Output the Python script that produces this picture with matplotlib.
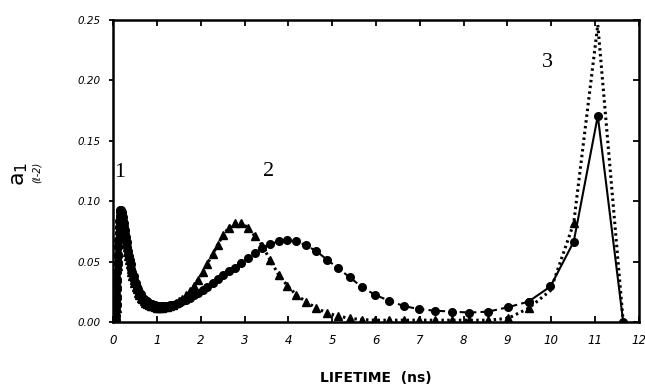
import numpy as np
from matplotlib import pyplot as plt

# lifetime grid (ns), shared by both curves
lifetimes = [0.051, 0.054, 0.057, 0.060, 0.063, 0.066, 0.070, 0.073, 0.077, 0.080,
             0.085, 0.090, 0.095, 0.100, 0.105, 0.110, 0.116, 0.122, 0.128, 0.135,
             0.14, 0.15, 0.16, 0.17, 0.18, 0.19, 0.20, 0.21, 0.22, 0.23,
             0.24, 0.25, 0.27, 0.28, 0.29, 0.31, 0.33, 0.34, 0.36, 0.38,
             0.40, 0.42, 0.44, 0.47, 0.49, 0.52, 0.54, 0.57, 0.60, 0.63,
             0.67, 0.70, 0.74, 0.78, 0.82, 0.86, 0.90, 0.95, 1.00, 1.05,
             1.11, 1.17, 1.23, 1.29, 1.36, 1.43, 1.51, 1.58, 1.67, 1.76,
             1.85, 1.94, 2.05, 2.15, 2.27, 2.39, 2.51, 2.64, 2.78, 2.93,
             3.08, 3.24, 3.41, 3.59, 3.78, 3.98, 4.18, 4.40, 4.64, 4.88,
             5.13, 5.40, 5.69, 5.98, 6.30, 6.63, 6.98, 7.34, 7.73, 8.13,
             8.56, 9.01, 9.48, 9.98, 10.51, 11.06, 11.64]

# amplitudes, circle curve
amp_circles = [0.0, 0.0, 0.0, 0.0, 0.0, 0.0, 0.002, 0.005, 0.009, 0.014,
               0.020, 0.027, 0.034, 0.041, 0.048, 0.055, 0.062, 0.068, 0.074, 0.079,
               0.084, 0.088, 0.091, 0.093, 0.093, 0.092, 0.091, 0.089, 0.087, 0.084,
               0.082, 0.079, 0.076, 0.073, 0.070, 0.066, 0.062, 0.059, 0.055, 0.051,
               0.048, 0.044, 0.041, 0.038, 0.035, 0.032, 0.029, 0.027, 0.025, 0.023,
               0.021, 0.019, 0.018, 0.017, 0.016, 0.015, 0.0145, 0.014, 0.0135, 0.013,
               0.013, 0.013, 0.0133, 0.0137, 0.0142, 0.015, 0.016, 0.017, 0.0185, 0.020,
               0.022, 0.024, 0.0265, 0.029, 0.0325, 0.036, 0.039, 0.042, 0.045, 0.049,
               0.053, 0.057, 0.061, 0.0645, 0.0667, 0.0678, 0.0667, 0.0636, 0.0586, 0.0517,
               0.0447, 0.037, 0.0286, 0.0225, 0.0175, 0.0133, 0.0106, 0.0094, 0.0086, 0.0078,
               0.0086, 0.0122, 0.0169, 0.0294, 0.0664, 0.1706, 0.0]

# amplitudes, triangle curve
amp_triangles = [0.0, 0.0, 0.0, 0.0, 0.0, 0.0, 0.002, 0.004, 0.008, 0.012,
                 0.018, 0.025, 0.032, 0.039, 0.046, 0.053, 0.060, 0.066, 0.072, 0.077,
                 0.081, 0.085, 0.088, 0.090, 0.090, 0.089, 0.088, 0.086, 0.083, 0.081,
                 0.078, 0.075, 0.072, 0.069, 0.066, 0.062, 0.058, 0.055, 0.051, 0.048,
                 0.044, 0.041, 0.038, 0.035, 0.032, 0.029, 0.027, 0.024, 0.022, 0.020,
                 0.019, 0.017, 0.016, 0.015, 0.014, 0.0135, 0.013, 0.0125, 0.012, 0.012,
                 0.012, 0.0122, 0.0125, 0.013, 0.014, 0.0155, 0.017, 0.019, 0.022, 0.026,
                 0.030, 0.035, 0.041, 0.048, 0.056, 0.064, 0.072, 0.078, 0.082, 0.082,
                 0.078, 0.071, 0.063, 0.051, 0.039, 0.030, 0.0225, 0.0169, 0.0114, 0.0075,
                 0.005, 0.003, 0.002, 0.0015, 0.0015, 0.0015, 0.0015, 0.0015, 0.0015, 0.0015,
                 0.0015, 0.003, 0.0114, 0.026, 0.0817, 0.246, 0.0]

xticks = list(range(0, 13))
yticks = [0.00, 0.05, 0.10, 0.15, 0.20, 0.25]
ytick_labels = ['0.00', '0.05', '0.10', '0.15', '0.20', '0.25']
peak_labels = ['1', '2', '3']
peak_pos = [(0.16, 0.124), (3.54, 0.125), (9.92, 0.215)]

x = np.array(lifetimes)
yc = np.array(amp_circles)
yt = np.array(amp_triangles)
split = 102  # circle curve goes solid from here on

fig = plt.figure(figsize=(6.45, 3.87), dpi=100)
ax = fig.add_axes([113/645, 65/387, 526/645, 302/387])

# triangles, dotted
ax.plot(x, yt, color='black', lw=2.2, linestyle=(0, (0.8, 1.1)),
        marker='^', ms=5.5, markevery=list(range(0, 103)) + [104])
# circles, dashed then solid
ax.plot(x[:split + 1], yc[:split + 1], color='black', lw=1.5,
        linestyle=(0, (3, 2)), marker='o', ms=5.5)
ax.plot(x[split:], yc[split:], color='black', lw=1.5, linestyle='-',
        marker='o', ms=5.5)

for lab, (px, py) in zip(peak_labels, peak_pos):
    ax.text(px, py, lab, family='Liberation Serif', fontsize=16,
            ha='center', va='center')

ax.set_xlim(0, 12)
ax.set_ylim(0, 0.25)
ax.set_xticks(xticks)
ax.set_xticklabels([str(t) for t in xticks], fontsize=8.5, style='italic')
ax.set_yticks(yticks)
ax.set_yticklabels(ytick_labels, fontsize=7.5, style='italic')

ax.tick_params(axis='x', direction='in', top=True, length=4, width=1.3, pad=9)
ax.tick_params(axis='y', direction='out', length=3, width=1.3, pad=6)
# right side ticks point inward
ax2 = ax.secondary_yaxis('right')
ax2.set_yticks(yticks)
ax2.tick_params(direction='in', length=4, width=1.3, labelright=False)
for s in ax.spines.values():
    s.set_linewidth(1.8)

fig.text(376/645, 1 - 378/387, 'LIFETIME  (ns)', fontsize=10, fontweight='bold',
         ha='center', va='center')
fig.text(20/645, 1 - 174/387, r'a$_1$', fontsize=16, rotation=90,
         ha='center', va='center')
fig.text(37/645, 1 - 172/387, '(ℓ-2)', fontsize=7, rotation=90, style='italic',
         ha='center', va='center')

fig.savefig('out.png', dpi=100)
